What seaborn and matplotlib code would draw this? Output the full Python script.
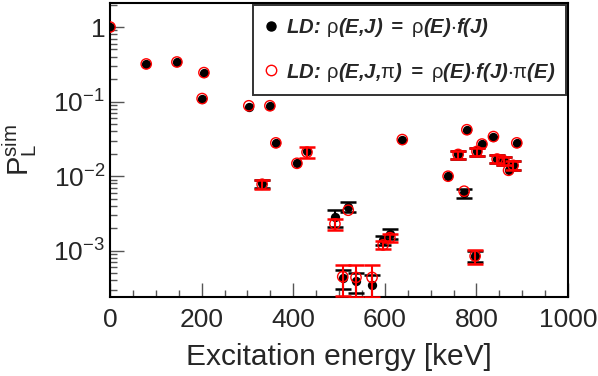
import numpy as np
import pandas as pd
import seaborn as sns
import matplotlib.pyplot as plt
from matplotlib.lines import Line2D
from matplotlib.ticker import FixedLocator, MultipleLocator, LogLocator, NullFormatter

# ---- data ----
energy = [0, 79, 146, 205, 201, 303, 349, 362, 408, 430, 638, 332, 491, 520,
          596, 611, 508, 537, 572, 738, 760, 773, 779, 797, 801, 812, 837,
          845, 860, 870, 880, 888]
p_ld = [1.0, 0.32, 0.34, 0.24, 0.108, 0.086, 0.088, 0.028, 0.0149, 0.0215,
        0.031, 0.0080, 0.0028, 0.0039, 0.0014, 0.0017, 0.00043, 0.00039,
        0.00035, 0.0100, 0.0196, 0.0059, 0.042, 0.00085, 0.0215, 0.027,
        0.034, 0.017, 0.016, 0.012, 0.014, 0.028]
err_ld = [0, 0, 0, 0, 0, 0, 0, 0, 0, 0, 0, 0.0010, 0.0007, 0.0006, 0.0002,
          0.00024, 0.00012, 0.00012, 0.00013, 0, 0.0025, 0.0008, 0, 0.00015,
          0.0027, 0, 0, 0.002, 0.002, 0, 0.002, 0]
p_ldpi = [1.0, 0.32, 0.34, 0.245, 0.11, 0.088, 0.088, 0.028, 0.0149, 0.021,
          0.031, 0.0078, 0.0023, 0.0035, 0.0012, 0.0015, 0.00045, 0.00044,
          0.00044, 0.0100, 0.0196, 0.0063, 0.042, 0.00085, 0.0215, 0.027,
          0.034, 0.017, 0.016, 0.012, 0.014, 0.028]
err_ldpi = [0, 0, 0, 0, 0, 0, 0, 0, 0, 0.0036, 0, 0.0010, 0.0004, 0, 0.00014,
            0.0002, 0.0002, 0.0002, 0.0002, 0, 0.0025, 0, 0, 0.00019, 0.0027,
            0, 0, 0.002, 0.002, 0, 0.002, 0]

df = pd.DataFrame({'E': energy, 'P': p_ld, 'err': err_ld})
df2 = pd.DataFrame({'E': energy, 'P': p_ldpi, 'err': err_ldpi})

sns.set_style("ticks")
plt.rcParams['font.family'] = ['Liberation Sans', 'DejaVu Sans']
plt.rcParams['mathtext.fontset'] = 'custom'
plt.rcParams['mathtext.rm'] = 'Liberation Sans'
plt.rcParams['mathtext.it'] = 'Liberation Sans:italic'
plt.rcParams['mathtext.bf'] = 'Liberation Sans:italic:bold'
plt.rcParams['mathtext.default'] = 'regular'

fig, ax = plt.subplots(figsize=(5.98, 3.76), dpi=100)
fig.subplots_adjust(left=0.184, right=0.950, bottom=0.21, top=0.992)

# black: LD rho(E,J)
eb = df[df['err'] > 0]
ax.errorbar(eb['E'], eb['P'], yerr=eb['err'], fmt='none', ecolor='k',
            elinewidth=1.5, capsize=6, capthick=1.8, zorder=2)
sns.scatterplot(data=df, x='E', y='P', ax=ax, color='k', marker='o', s=45,
                edgecolor='k', linewidth=0, zorder=3, legend=False)
# red: LD rho(E,J,pi)
eb2 = df2[df2['err'] > 0]
ax.errorbar(eb2['E'], eb2['P'], yerr=eb2['err'], fmt='none', ecolor='red',
            elinewidth=1.5, capsize=6, capthick=1.8, zorder=4)
sns.scatterplot(data=df2, x='E', y='P', ax=ax, marker='o', s=55,
                facecolor='none', edgecolor='red', linewidth=1.0, zorder=5,
                legend=False)

ax.set_yscale('log')
ax.set_xlim(0, 1000)
ax.set_ylim(2.4e-4, 2.1)

ax.xaxis.set_major_locator(MultipleLocator(200))
ax.xaxis.set_minor_locator(MultipleLocator(50))
ax.yaxis.set_major_locator(FixedLocator([1e-3, 1e-2, 1e-1, 1]))
ax.set_yticklabels([r'$10^{-3}$', r'$10^{-2}$', r'$10^{-1}$', '1'])
ax.yaxis.set_minor_locator(LogLocator(base=10, subs=np.arange(2, 10)))
ax.yaxis.set_minor_formatter(NullFormatter())

ax.tick_params(which='both', direction='in', top=False, right=False,
               labelsize=19, width=1, color='#555555')
ax.tick_params(which='major', length=10)
ax.tick_params(which='minor', length=5)
ax.tick_params(axis='x', pad=8)
for s in ax.spines.values():
    s.set_visible(True)
    s.set_linewidth(1.5)
    s.set_color('k')

ax.set_xlabel('Excitation energy [keV]', fontsize=21.5, labelpad=8)
ax.set_ylabel(r'$P_{L}^{sim}$', fontsize=21, labelpad=10)

handles = [
    Line2D([], [], marker='o', ls='', color='k', markersize=6.5),
    Line2D([], [], marker='o', ls='', markerfacecolor='none',
           markeredgecolor='red', markersize=7.5, markeredgewidth=1),
]
labels = [
    r'$\mathbf{LD\!:}\,\rho\mathbf{(E{,}J)}\ \mathbf{=}\ \rho\mathbf{(E)}{\cdot}\mathbf{f(J)}$',
    r'$\mathbf{LD\!:}\,\rho\mathbf{(E{,}J{,}}\pi\mathbf{)}\ \mathbf{=}\ \rho\mathbf{(E)}{\cdot}\mathbf{f(J)}{\cdot}\pi\mathbf{(E)}$',
]
leg = ax.legend(handles, labels, loc='upper right', bbox_to_anchor=(0.996, 0.993),
                borderaxespad=0, fontsize=14.6, frameon=True, fancybox=False,
                edgecolor='#333333', framealpha=1, handletextpad=0.45,
                handlelength=0.6, labelspacing=1.05, borderpad=0.55)
leg.get_frame().set_linewidth(1.4)

plt.savefig('out.png', dpi=100)
